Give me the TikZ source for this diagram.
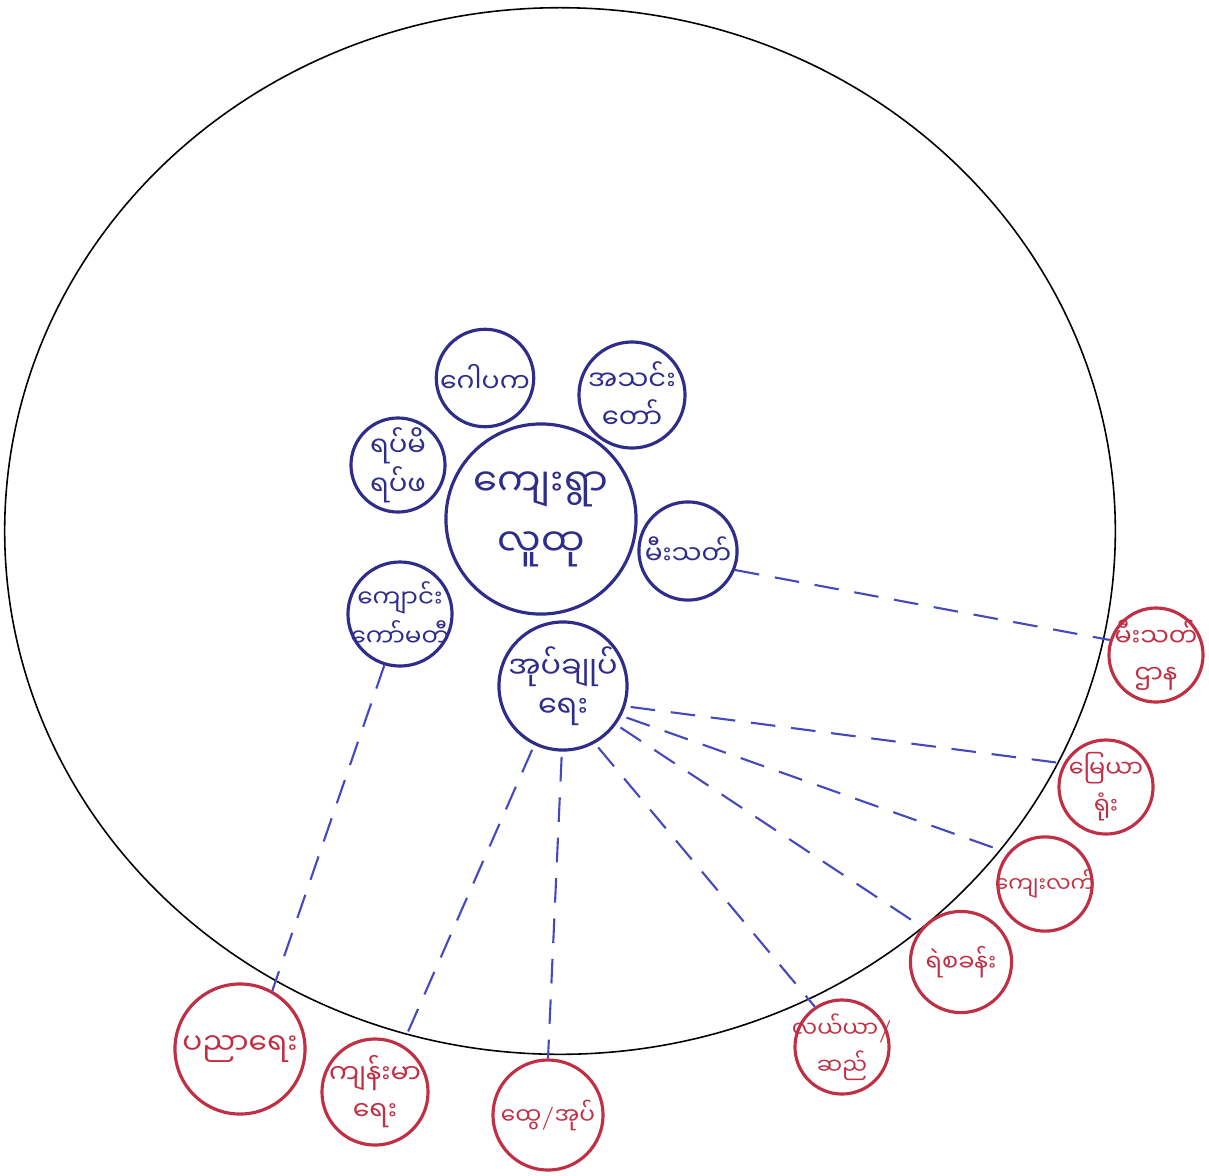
\documentclass[tikz,border=0pt]{standalone}
\usepackage{fontspec}
\newfontfamily\mmfont[Script=Myanmar]{Noto Sans Myanmar UI}
\usepackage{tikz}
\usetikzlibrary{positioning}
\definecolor{pen}{RGB}{48,44,138}
\definecolor{wire}{RGB}{72,72,190}
\definecolor{redpen}{RGB}{192,48,68}
\newcommand{\mmslash}{{\rmfamily/}}
\tikzset{
  group/.style={circle,draw=pen,line width=0.9pt,minimum size=#1,inner sep=-6mm,
    align=center,text=pen},
  group/.default=9.4mm,
  agency/.style={circle,draw=redpen,line width=0.9pt,minimum size=#1,inner sep=-6mm,
    align=center,text=redpen},
  agency/.default=9.4mm,
  link/.style={draw=wire,line width=0.6pt,dash pattern=on 7pt off 4.5pt},
  frame/.style={draw=black,line width=0.45pt},
}

\begin{document}
\begin{tikzpicture}[x=0.01cm,y=-0.01cm]
    \useasboundingbox (0,0) rectangle (1209,1175);
    \draw[frame] (560,531) ellipse [x radius=5.55cm,y radius=5.23cm];
    % community groups
    \node[group=19mm,font=\mmfont\fontsize{11}{17}\selectfont] (village) at (541,519) {ကျေးရွာ\\လူထု};
    \foreach \n/\x/\y/\s/\f/\t in {gawpaka/485/378/9.4mm/7.6/{ဂေါပက},church/632/395/10.6mm/7.8/{အသင်း\\တော်},
      elders/398/465/9.4mm/7.8/{ရပ်မိ\\ရပ်ဖ},school/400/614/10.4mm/7/{ကျောင်း\\ကော်မတီ},
      fire/688/551/9.4mm/7.5/{မီးသတ်},admin/563/686/12.8mm/8.6/{အုပ်ချုပ်\\ရေး}}
      \node[group=\s,font=\mmfont\fontsize{\f}{11}\selectfont] (\n) at (\x,\y) {\t};
    % outside agencies
    \foreach \n/\x/\y/\s/\f/\t in {firedept/1156/655/9.4mm/7.2/{မီးသတ်\\ဌာန},land/1106/787/9.4mm/6.8/{မြေယာ\\ရုံး},
      rural/1045/884/9.4mm/6.2/{ကျေးလက်},police/961/962/8.4mm/6.8/{ရဲစခန်း},farm/842/1047/9.4mm/6.4/{လယ်ယာ\mmslash\\ဆည်},
      edu/240/1049/13mm/8.4/{ပညာရေး},health/375/1092/10.6mm/7.6/{ကျန်းမာ\\ရေး},genadmin/548/1115/11mm/6.6/{ထွေ\mmslash အုပ်}}
      \node[agency=\s,font=\mmfont\fontsize{\f}{10.5}\selectfont] (\n) at (\x,\y) {\t};
    \draw[link] (fire.338) -- (firedept.162);
    \draw[link] (school.253) -- (edu.61);
    \foreach \a/\m/\b in {342/land/151,333/rural/140,324/police/138,299/farm/124,269/genadmin/90,244/health/60}
      \draw[link,shorten <=1.5pt] (admin.\a) -- (\m.\b);
  \end{tikzpicture}
\end{document}
